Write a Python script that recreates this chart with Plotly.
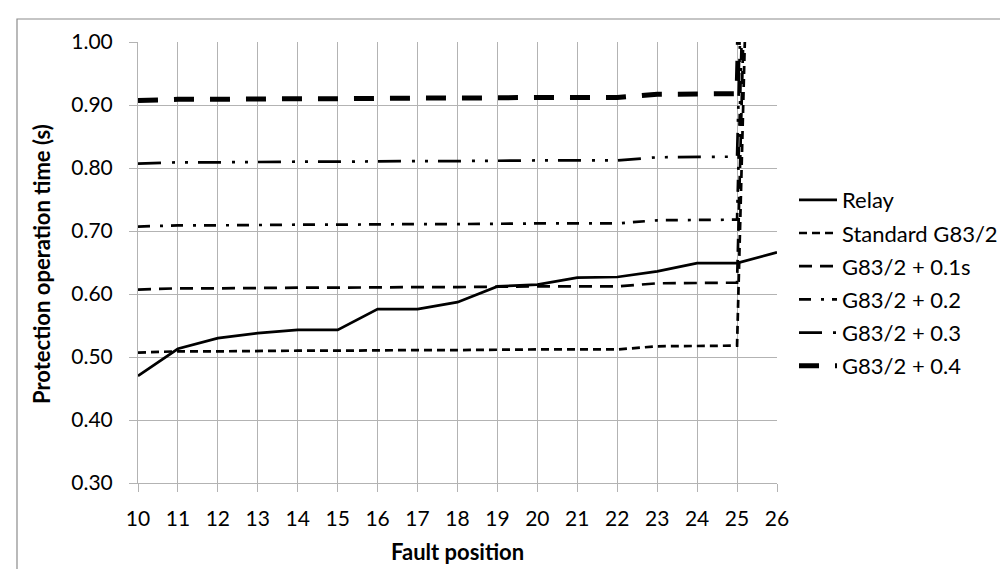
import plotly.graph_objects as go

fault_position = list(range(10, 27))
relay = [0.470, 0.513, 0.530, 0.538, 0.543, 0.543, 0.576, 0.576, 0.587, 0.612,
         0.615, 0.626, 0.627, 0.636, 0.649, 0.649, 0.666]
standard = [0.507, 0.509, 0.509, 0.510, 0.510, 0.510, 0.511, 0.511, 0.511, 0.512,
            0.512, 0.512, 0.512, 0.517, 0.518, 0.518, 3.0]
g_plus_01 = [0.607, 0.609, 0.609, 0.610, 0.610, 0.610, 0.611, 0.611, 0.611, 0.612,
             0.612, 0.612, 0.612, 0.617, 0.618, 0.618, 3.1]
g_plus_02 = [0.707, 0.709, 0.709, 0.710, 0.710, 0.710, 0.711, 0.711, 0.711, 0.712,
             0.712, 0.712, 0.712, 0.717, 0.718, 0.718, 3.2]
g_plus_03 = [0.807, 0.809, 0.809, 0.810, 0.810, 0.810, 0.811, 0.811, 0.811, 0.812,
             0.812, 0.812, 0.812, 0.817, 0.818, 0.818, 3.3]
g_plus_04 = [0.907, 0.909, 0.909, 0.910, 0.910, 0.910, 0.911, 0.911, 0.911, 0.912,
             0.912, 0.912, 0.912, 0.917, 0.918, 0.918, 3.4]

series_names = ["Relay", "Standard G83/2", "G83/2 + 0.1s", "G83/2 + 0.2",
                "G83/2 + 0.3", "G83/2 + 0.4"]
series_values = [relay, standard, g_plus_01, g_plus_02, g_plus_03, g_plus_04]
styles = [
    dict(width=2.7, dash="solid"),
    dict(width=2.7, dash="8px,5px"),
    dict(width=2.7, dash="13px,8px"),
    dict(width=2.7, dash="12px,10px,3px,8px"),
    dict(width=2.7, dash="23px,11px,3px,10px,3px,10px"),
    dict(width=5, dash="20px,16px"),
]

FONT = "Lato"
fig = go.Figure()
for i, (name, vals, st) in enumerate(zip(series_names, series_values, styles)):
    fig.add_trace(go.Scatter(
        x=fault_position, y=vals, mode="lines", name=name,
        line=dict(color="black", width=st["width"], dash=st["dash"]),
        legendgroup=f"g{i}",
    ))

W, H = 1008, 569
L, R, T, B = 130, 769, 34, 475
grid = "#b3b3b3"

fig.update_layout(
    width=W, height=H,
    margin=dict(l=L, r=W - R, t=T, b=H - B, autoexpand=False),
    paper_bgcolor="white", plot_bgcolor="white",
    font=dict(family=FONT, size=21, color="black"),
    showlegend=True,
    legend=dict(x=(786 - L) / (R - L), y=(B - 171) / (B - T), xanchor="left", yanchor="top",
                font=dict(family=FONT, size=22, color="black"),
                bgcolor="rgba(0,0,0,0)", tracegroupgap=1.6, itemwidth=38),
    xaxis=dict(range=[10, 26], dtick=1, tick0=10, showgrid=True, gridcolor=grid, gridwidth=1,
               showline=True, linecolor=grid, linewidth=1, mirror=False,
               ticks="outside", ticklen=8, tickcolor=grid, zeroline=False,
               ticklabelstandoff=9, tickfont=dict(family=FONT, size=21)),
    yaxis=dict(range=[0.3, 1.0], dtick=0.1, tick0=0.3, tickformat=".2f", showgrid=True,
               gridcolor=grid, gridwidth=1, showline=True, linecolor=grid, linewidth=1,
               ticks="outside", ticklen=8, tickcolor=grid, zeroline=False,
               ticklabelstandoff=12, tickfont=dict(family=FONT, size=21)),
    annotations=[
        dict(text="<b>Fault position</b>", xref="paper", yref="paper",
             x=0.5, y=(B - 543) / (B - T), xanchor="center", yanchor="middle",
             showarrow=False, font=dict(family=FONT, size=22)),
        dict(text="<b>Protection operation time (s)</b>", xref="paper", yref="paper",
             x=(33 - L) / (R - L), y=(B - 256) / (B - T), xanchor="center", yanchor="middle",
             textangle=-90, showarrow=False, font=dict(family=FONT, size=22)),
    ],
    shapes=[dict(type="rect", xref="paper", yref="paper",
                 x0=(9 - L) / (R - L), x1=(W + 5 - L) / (R - L),
                 y0=(B - (H + 5)) / (B - T), y1=(B - 11) / (B - T),
                 line=dict(color="#8c8c8c", width=1.2), fillcolor="rgba(0,0,0,0)", layer="below")],
)

fig.write_html("out.html")
